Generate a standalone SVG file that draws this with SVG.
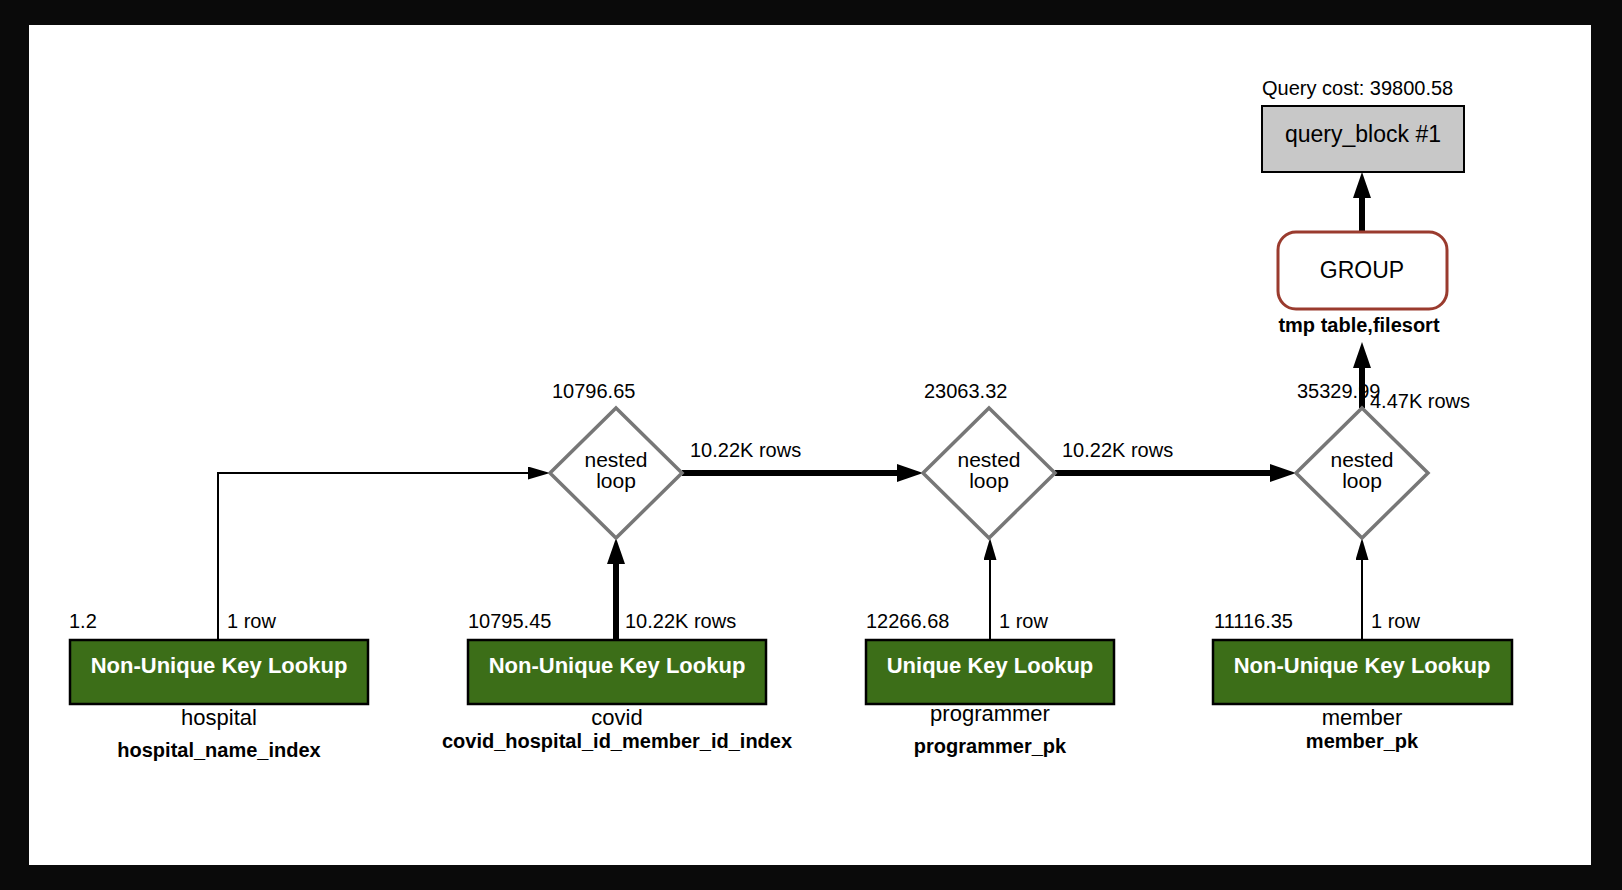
<svg xmlns="http://www.w3.org/2000/svg" width="1622" height="890" viewBox="0 0 1622 890">
<style>
text{font-family:"Liberation Sans",Arial,Helvetica,sans-serif;fill:#000}
.lbl{font-size:20px}
.nl{font-size:21px;text-anchor:middle}
.big{font-size:23px;text-anchor:middle}
.op{font-size:22px;font-weight:bold;fill:#fff;text-anchor:middle}
.tbl{font-size:22px;text-anchor:middle}
.idx{font-size:20px;font-weight:bold;text-anchor:middle}
.box{fill:#3c6e18;stroke:#000;stroke-width:2.5}
.dia{fill:#fff;stroke:#777;stroke-width:3.5}
.thick{fill:none;stroke:#000;stroke-width:6}
.thin{fill:none;stroke:#000;stroke-width:2}
</style>
<defs>
<marker id="ah" markerUnits="userSpaceOnUse" viewBox="0 -9 26 18" markerWidth="26" markerHeight="18" refX="1" refY="0" orient="auto">
<path d="M0,-9 L26,0 L0,9 z" fill="#000"/>
</marker>
<marker id="as" markerUnits="userSpaceOnUse" viewBox="0 -6.5 22 13" markerWidth="22" markerHeight="13" refX="1" refY="0" orient="auto">
<path d="M0,-6.5 L22,0 L0,6.5 z" fill="#000"/>
</marker>
</defs>
<rect x="0" y="0" width="1622" height="890" fill="#0a0a0a"/>
<rect x="29" y="25" width="1562" height="840" fill="#fff"/>

<g id="connectors">
<path class="thin" d="M218,640 V473 H529" marker-end="url(#as)"/>
<path class="thick" d="M616,640 V563" marker-end="url(#ah)"/>
<path class="thick" d="M682,473 H898" marker-end="url(#ah)"/>
<path class="thin" d="M990,640 V559" marker-end="url(#as)"/>
<path class="thick" d="M1055,473 H1271" marker-end="url(#ah)"/>
<path class="thin" d="M1362,640 V559" marker-end="url(#as)"/>
<path class="thick" d="M1362,408 V367" marker-end="url(#ah)"/>
<path class="thick" d="M1362,232 V197" marker-end="url(#ah)"/>
<text class="lbl" x="227" y="628">1 row</text>
<text class="lbl" x="625" y="628">10.22K rows</text>
<text class="lbl" x="999" y="628">1 row</text>
<text class="lbl" x="1371" y="628">1 row</text>
<text class="lbl" x="690" y="457">10.22K rows</text>
<text class="lbl" x="1062" y="457">10.22K rows</text>
<text class="lbl" x="1370" y="408">4.47K rows</text>
</g>

<g id="query_block">
<text class="lbl" x="1262" y="95">Query cost: 39800.58</text>
<rect x="1262" y="106" width="202" height="66" fill="#c8c8c8" stroke="#000" stroke-width="2"/>
<text class="big" x="1363" y="142">query_block #1</text>
</g>

<g id="group">
<rect x="1278" y="232" width="169" height="77" rx="18" ry="18" fill="#fff" stroke="#9a3b2e" stroke-width="3"/>
<text class="big" x="1362" y="278">GROUP</text>
<text class="idx" x="1359" y="332">tmp table,filesort</text>
</g>

<g id="nested_loop_1">
<text class="lbl" x="552" y="398">10796.65</text>
<polygon class="dia" points="616,408 682,473 616,538 550,473"/>
<text class="nl" x="616" y="467">nested</text>
<text class="nl" x="616" y="488">loop</text>
</g>

<g id="nested_loop_2">
<text class="lbl" x="924" y="398">23063.32</text>
<polygon class="dia" points="989,408 1055,473 989,538 923,473"/>
<text class="nl" x="989" y="467">nested</text>
<text class="nl" x="989" y="488">loop</text>
</g>

<g id="nested_loop_3">
<text class="lbl" x="1297" y="398">35329.99</text>
<polygon class="dia" points="1362,408 1428,473 1362,538 1296,473"/>
<text class="nl" x="1362" y="467">nested</text>
<text class="nl" x="1362" y="488">loop</text>
</g>

<g id="hospital">
<text class="lbl" x="69" y="628">1.2</text>
<rect class="box" x="70" y="640" width="298" height="64"/>
<text class="op" x="219" y="673">Non-Unique Key Lookup</text>
<text class="tbl" x="219" y="725">hospital</text>
<text class="idx" x="219" y="757">hospital_name_index</text>
</g>

<g id="covid">
<text class="lbl" x="468" y="628">10795.45</text>
<rect class="box" x="468" y="640" width="298" height="64"/>
<text class="op" x="617" y="673">Non-Unique Key Lookup</text>
<text class="tbl" x="617" y="725">covid</text>
<text class="idx" x="617" y="748">covid_hospital_id_member_id_index</text>
</g>

<g id="programmer">
<text class="lbl" x="866" y="628">12266.68</text>
<rect class="box" x="866" y="640" width="248" height="64"/>
<text class="op" x="990" y="673">Unique Key Lookup</text>
<text class="tbl" x="990" y="721">programmer</text>
<text class="idx" x="990" y="753">programmer_pk</text>
</g>

<g id="member">
<text class="lbl" x="1214" y="628">11116.35</text>
<rect class="box" x="1213" y="640" width="299" height="64"/>
<text class="op" x="1362" y="673">Non-Unique Key Lookup</text>
<text class="tbl" x="1362" y="725">member</text>
<text class="idx" x="1362" y="748">member_pk</text>
</g>
</svg>
